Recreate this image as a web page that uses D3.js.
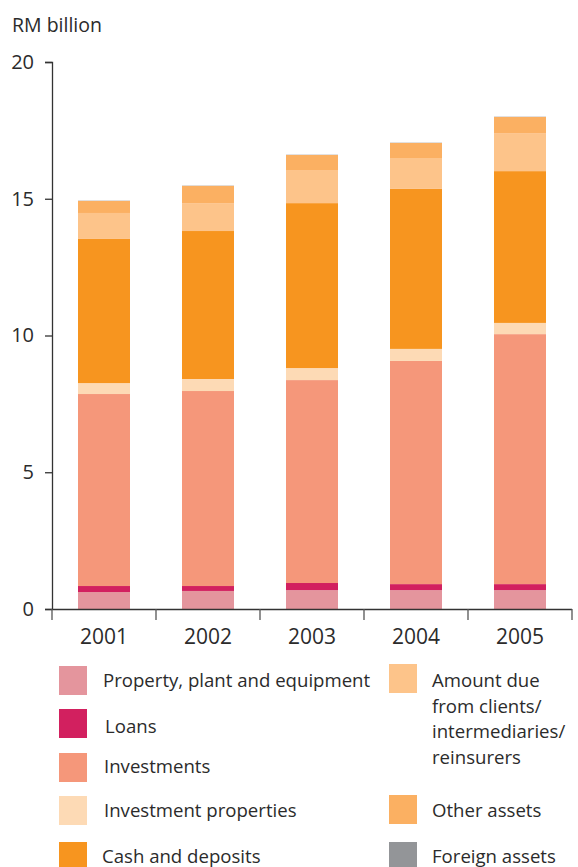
<!DOCTYPE html>
<html><head><meta charset="utf-8">
<script src="https://cdn.jsdelivr.net/npm/d3@7/dist/d3.min.js"></script>
<style>body{margin:0;background:#fff}svg{display:block}text{font-family:"Open Sans",sans-serif;fill:#2b2b2b}</style>
</head><body><svg id="c" width="578" height="867"></svg>
<script>
const years = ["2001","2002","2003","2004","2005"];
const seriesNames = ["Property, plant and equipment","Loans","Investments","Investment properties","Cash and deposits","Amount due from clients/ intermediaries/ reinsurers","Other assets","Foreign assets"];
const ppe        = [0.62, 0.66, 0.69, 0.69, 0.69];
const loans      = [0.22, 0.18, 0.26, 0.22, 0.22];
const investments= [7.02, 7.13, 7.42, 8.16, 9.14];
const invProps   = [0.40, 0.44, 0.44, 0.44, 0.41];
const cash       = [5.27, 5.41, 6.03, 5.85, 5.55];
const amountDue  = [0.95, 1.02, 1.21, 1.13, 1.39];
const otherAssets= [0.44, 0.63, 0.55, 0.55, 0.59];
const foreign    = [0.01, 0.01, 0.01, 0.01, 0.01];
const yTicks = [0, 5, 10, 15, 20];
const colors = ["#e4959d","#d2205f","#f5977a","#fddab5","#f7951f","#fdc48a","#fbb062","#939598"];

const svg = d3.select("#c");
const x = d3.scaleBand().domain(years).range([52, 572]).paddingInner(0.5).paddingOuter(0.25);
const y = d3.scaleLinear().domain([0, 20]).range([609, 62]);

const rows = years.map((yr, i) => ({year: yr, s0: ppe[i], s1: loans[i], s2: investments[i], s3: invProps[i], s4: cash[i], s5: amountDue[i], s6: otherAssets[i], s7: foreign[i]}));
const keys = ["s0","s1","s2","s3","s4","s5","s6","s7"];
const stacked = d3.stack().keys(keys)(rows);

svg.append("text").attr("x", 12).attr("y", 32).attr("font-size", 19.5).text("RM billion");

stacked.forEach((layer, li) => {
  svg.append("g").selectAll("rect").data(layer).join("rect")
    .attr("x", d => x(d.data.year))
    .attr("width", x.bandwidth())
    .attr("y", d => y(d[1]))
    .attr("height", d => y(d[0]) - y(d[1]))
    .attr("fill", colors[li]);
});

// y axis
const ya = svg.append("g").attr("transform", "translate(52,0)")
  .call(d3.axisLeft(y).tickValues(yTicks).tickSize(7).tickPadding(11));
ya.select(".domain").attr("stroke", "#333").attr("stroke-width", 1.3).attr("d", "M-7,62.5H0.5V609");
ya.selectAll(".tick line").attr("stroke", "#333").attr("stroke-width", 1.3);
ya.selectAll(".tick text").attr("font-size", 20).attr("fill", "#2b2b2b").attr("font-family", "Open Sans, sans-serif");

// x axis
const step = x.step();
const bounds = d3.range(years.length + 1).map(i => 52 + i * step);
const xa = svg.append("g").attr("transform", "translate(0,609)")
  .call(d3.axisBottom(x).tickSize(0).tickPadding(20));
xa.select(".domain").attr("stroke", "#333").attr("stroke-width", 1.3).attr("d", "M45,0.5H572");
xa.selectAll(".tick text").attr("font-size", 21).attr("fill", "#2b2b2b").attr("font-family", "Open Sans, sans-serif");
xa.selectAll("line.b").data(bounds).join("line").attr("class","b")
  .attr("x1", d => d).attr("x2", d => d).attr("y1", 0).attr("y2", 11)
  .attr("stroke", "#555").attr("stroke-width", 1.3);

// legend
const legLeft = [0,1,2,3,4];
const leftY = [666, 709, 753, 796, 842];
const leftTextY = [687, 733, 773, 817, 863];
const leftTextX = [103, 105, 104, 104, 102];
const fsLeg = 18.6;
const lg = svg.append("g");
legLeft.forEach((si, i) => {
  lg.append("rect").attr("x", 59).attr("y", leftY[i]).attr("width", 28).attr("height", 29).attr("fill", colors[si]);
  lg.append("text").attr("x", leftTextX[i]).attr("y", leftTextY[i]).attr("font-size", fsLeg).text(seriesNames[si]);
});
const rightItems = [5,6,7];
const rightY = [664, 795, 842];
const rightTextY = [687, 817, 863];
const rightLines = [["Amount due","from clients/","intermediaries/","reinsurers"],["Other assets"],["Foreign assets"]];
rightItems.forEach((si, i) => {
  lg.append("rect").attr("x", 389).attr("y", rightY[i]).attr("width", 28).attr("height", 29).attr("fill", colors[si]);
  const t = lg.append("text").attr("x", 432).attr("y", rightTextY[i]).attr("font-size", fsLeg);
  rightLines[i].forEach((ln, j) => t.append("tspan").attr("x", 432).attr("dy", j === 0 ? 0 : 25.7).text(ln));
});
</script></body></html>
